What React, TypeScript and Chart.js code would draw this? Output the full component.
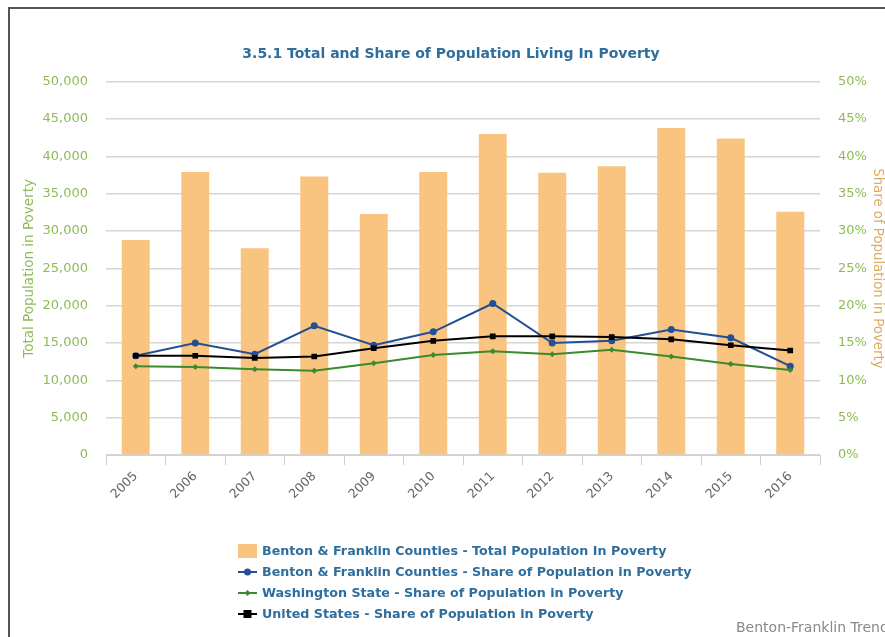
import React, { useEffect, useRef } from "react";
import { Chart, registerables } from "chart.js";

Chart.register(...registerables);

const years = ["2005", "2006", "2007", "2008", "2009", "2010", "2011", "2012", "2013", "2014", "2015", "2016"];
const totalPoverty = [28800, 37900, 27700, 37300, 32300, 37900, 43000, 37800, 38700, 43800, 42400, 32600];
const bfShare = [13.3, 15.0, 13.5, 17.3, 14.7, 16.5, 20.3, 15.0, 15.3, 16.8, 15.7, 11.9];
const waShare = [11.9, 11.8, 11.5, 11.3, 12.3, 13.4, 13.9, 13.5, 14.1, 13.2, 12.2, 11.4];
const usShare = [13.3, 13.3, 13.0, 13.2, 14.3, 15.3, 15.9, 15.9, 15.8, 15.5, 14.7, 14.0];

const titleText = "3.5.1 Total and Share of Population Living In Poverty";
const leftAxisTitle = "Total Population in Poverty";
const rightAxisTitle = "Share of Population in Poverty";
const seriesNames = [
  "Benton & Franklin Counties - Total Population In Poverty",
  "Benton & Franklin Counties - Share of Population in Poverty",
  "Washington State - Share of Population in Poverty",
  "United States - Share of Population in Poverty",
];
const creditText = "Benton-Franklin Trends";

const FONT = "'DejaVu Sans', sans-serif";
const BAR_COLOR = "#f9c47f";
const BLUE = "#234f95";
const GREEN = "#3b8a2e";
const BLACK = "#000000";
const TICK_GREEN = "#8dbb55";
const TITLE_BLUE = "#2f6e9c";

export default function App() {
  const ref = useRef<HTMLCanvasElement | null>(null);

  useEffect(() => {
    if (!ref.current) return;
    const chart = new Chart(ref.current, {
      type: "bar",
      data: {
        labels: years,
        datasets: [
          {
            type: "bar",
            label: seriesNames[0],
            data: totalPoverty,
            backgroundColor: BAR_COLOR,
            borderWidth: 0,
            barPercentage: 0.47,
            categoryPercentage: 1,
            yAxisID: "y",
            order: 4,
          } as any,
          {
            type: "line",
            label: seriesNames[1],
            data: bfShare,
            borderColor: BLUE,
            backgroundColor: BLUE,
            borderWidth: 2,
            pointStyle: "circle",
            pointRadius: 3.5,
            pointBorderWidth: 0,
            yAxisID: "y1",
            order: 3,
          },
          {
            type: "line",
            label: seriesNames[2],
            data: waShare,
            borderColor: GREEN,
            backgroundColor: GREEN,
            borderWidth: 2,
            pointStyle: "rectRot",
            pointRadius: 3,
            pointBorderWidth: 0,
            yAxisID: "y1",
            order: 2,
          },
          {
            type: "line",
            label: seriesNames[3],
            data: usShare,
            borderColor: BLACK,
            backgroundColor: BLACK,
            borderWidth: 2,
            pointStyle: "rect",
            pointRadius: 4,
            pointBorderWidth: 0,
            yAxisID: "y1",
            order: 1,
          },
        ],
      },
      options: {
        responsive: false,
        animation: false,
        layout: { padding: { left: 17, right: 0, top: 0, bottom: 122 } },
        plugins: {
          legend: { display: false },
          tooltip: { enabled: false },
          title: {
            display: true,
            text: titleText,
            color: TITLE_BLUE,
            font: { family: FONT, size: 14, weight: "bold" },
            padding: { top: 46, bottom: 19 },
          },
        },
        scales: {
          x: {
            offset: true,
            grid: {
              offset: true,
              drawOnChartArea: false,
              drawTicks: true,
              tickLength: 10,
              color: "#c6d2e0",
            },
            border: { color: "#c6d2e0", width: 1 },
            ticks: {
              minRotation: 45,
              maxRotation: 45,
              color: "#666666",
              padding: 4,
              font: { family: FONT, size: 12.5 },
            },
            afterFit: (s: any) => {
              s.height = 60;
            },
          },
          y: {
            position: "left",
            min: 0,
            max: 50000,
            ticks: {
              stepSize: 5000,
              color: TICK_GREEN,
              padding: 18,
              font: { family: FONT, size: 13 },
              callback: (v: any) => Number(v).toLocaleString("en-US"),
            },
            grid: { color: "#d6d6d6", lineWidth: 1.5, drawTicks: false },
            border: { display: false },
            title: {
              display: true,
              text: leftAxisTitle,
              color: TICK_GREEN,
              font: { family: FONT, size: 13.5 },
              padding: { top: 4, bottom: 0 },
            },
            afterFit: (s: any) => {
              s.width = 89;
            },
          },
          y1: {
            position: "right",
            min: 0,
            max: 50,
            ticks: {
              stepSize: 5,
              color: TICK_GREEN,
              padding: 18,
              font: { family: FONT, size: 13 },
              callback: (v: any) => v + "%",
            },
            grid: { drawOnChartArea: false, drawTicks: false },
            border: { display: false },
            title: {
              display: true,
              text: rightAxisTitle,
              color: "#dcac66",
              font: { family: FONT, size: 13.3 },
              padding: { top: 0, bottom: 0 },
            },
            afterFit: (s: any) => {
              s.width = 65;
            },
          },
        },
      },
    });
    return () => chart.destroy();
  }, []);

  const legendRows = [
    { name: seriesNames[0], kind: "bar", color: BAR_COLOR },
    { name: seriesNames[1], kind: "circle", color: BLUE },
    { name: seriesNames[2], kind: "diamond", color: GREEN },
    { name: seriesNames[3], kind: "square", color: BLACK },
  ];

  const marker = (kind: string, color: string) => {
    if (kind === "bar") {
      return (
        <svg width="19" height="14" style={{ display: "block" }}>
          <rect x="0" y="0" width="19" height="14" fill={color} />
        </svg>
      );
    }
    return (
      <svg width="19" height="14" style={{ display: "block" }}>
        <line x1="0" y1="7" x2="19" y2="7" stroke={color} strokeWidth="2" />
        {kind === "circle" && <circle cx="9.5" cy="7" r="3.5" fill={color} />}
        {kind === "diamond" && <polygon points="9.5,4 12.5,7 9.5,10 6.5,7" fill={color} />}
        {kind === "square" && <rect x="5.5" y="3" width="8" height="8" fill={color} />}
      </svg>
    );
  };

  return (
    <div
      style={{
        position: "fixed",
        left: 0,
        top: 0,
        width: 885,
        height: 637,
        overflow: "hidden",
        background: "#ffffff",
      }}
    >
      <div
        style={{
          position: "absolute",
          left: 8,
          top: 7,
          width: 1000,
          height: 1000,
          borderLeft: "2px solid #555",
          borderTop: "2px solid #555",
        }}
      />
      <canvas ref={ref} width={885} height={637} style={{ position: "absolute", left: 0, top: 0, display: "block" }} />
      {legendRows.map((r, i) => (
        <div
          key={i}
          style={{
            position: "absolute",
            left: 238,
            top: 544 + i * 21,
            height: 14,
            display: "flex",
            alignItems: "center",
            whiteSpace: "nowrap",
          }}
        >
          {marker(r.kind, r.color)}
          <span
            style={{
              marginLeft: 5,
              fontFamily: FONT,
              fontSize: 12.7,
              fontWeight: "bold",
              color: TITLE_BLUE,
              lineHeight: "14px",
            }}
          >
            {r.name}
          </span>
        </div>
      ))}
      <div
        style={{
          position: "absolute",
          left: 736,
          top: 619,
          fontFamily: FONT,
          fontSize: 14,
          color: "#888",
          whiteSpace: "nowrap",
        }}
      >
        {creditText}
      </div>
    </div>
  );
}
